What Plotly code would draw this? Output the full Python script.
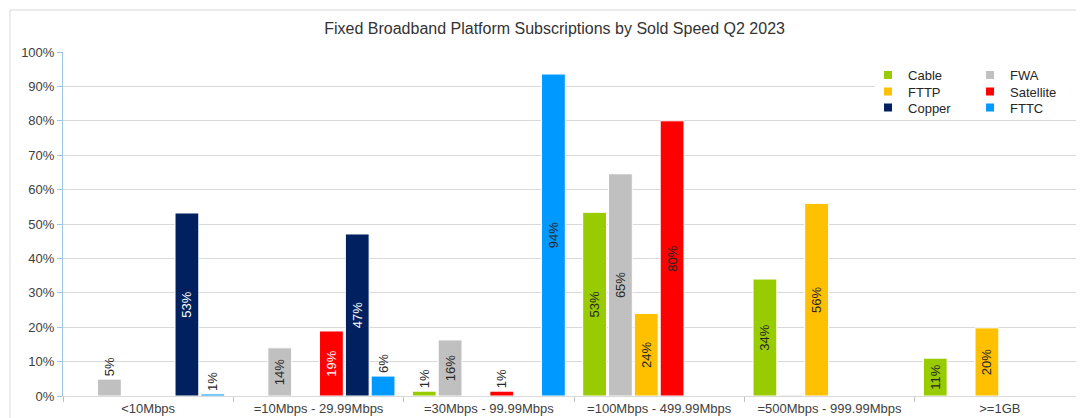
import plotly.graph_objects as go

categories = ["<10Mbps", "=10Mbps - 29.99Mbps", "=30Mbps - 99.99Mbps",
              "=100Mbps - 499.99Mbps", "=500Mbps - 999.99Mbps", ">=1GB"]

cable = [0, 0, 1.4, 53.4, 34.0, 11.0]
fwa = [4.9, 14.0, 16.3, 64.6, 0.3, 0]
fttp = [0, 0, 0, 24.0, 56.0, 19.8]
satellite = [0, 18.9, 1.4, 80.0, 0, 0]
copper = [53.2, 47.1, 0, 0, 0, 0]
fttc = [0.6, 5.8, 93.6, 0, 0, 0]

series_names = ["Cable", "FWA", "FTTP", "Satellite", "Copper", "FTTC"]
series_values = [cable, fwa, fttp, satellite, copper, fttc]
colors = ["#99CC00", "#C0C0C0", "#FFC000", "#FF0000", "#002060", "#0099FF"]
DARK = "#262626"
inside_colors = {
    "Cable": [DARK] * 6,
    "FWA": [DARK] * 6,
    "FTTP": [DARK] * 6,
    "Satellite": [DARK, "white", DARK, DARK, DARK, DARK],
    "Copper": ["white"] * 6,
    "FTTC": [DARK] * 6,
}
legend_rows = {"Cable": "legend", "FWA": "legend",
               "FTTP": "legend2", "Satellite": "legend2",
               "Copper": "legend3", "FTTC": "legend3"}

FONT = "Liberation Sans, Arial, sans-serif"

fig = go.Figure()
for name, vals, col in zip(series_names, series_values, colors):
    texts = [f"{round(v)}%" if v >= 0.5 else "" for v in vals]
    positions = ["outside" if v < 8 else "inside" for v in vals]
    fig.add_trace(go.Bar(
        x=categories, y=vals, name=name,
        marker=dict(color=col, line=dict(color="white", width=1)),
        text=texts, textposition=positions, textangle=-90,
        insidetextanchor="middle",
        insidetextfont=dict(color=inside_colors[name], size=13, family=FONT),
        outsidetextfont=dict(color=DARK, size=13, family=FONT),
        cliponaxis=False, showlegend=False, hoverinfo="skip",
    ))

for name, col in zip(series_names, colors):
    fig.add_trace(go.Scatter(
        x=[None], y=[None], mode="markers", name=name,
        marker=dict(symbol="square", size=8, color=col),
        legend=legend_rows[name], showlegend=True,
    ))

legend_common = dict(orientation="h", xanchor="left", x=0.7877, yanchor="middle",
                     entrywidth=57, entrywidthmode="pixels",
                     font=dict(size=13, family=FONT, color=DARK),
                     borderwidth=0, bgcolor="rgba(0,0,0,0)")

fig.update_layout(
    width=1084, height=418,
    margin=dict(l=55, r=7, t=44, b=30, autoexpand=False),
    paper_bgcolor="white", plot_bgcolor="white",
    font=dict(family=FONT, size=13, color="#404040"),
    barmode="group", bargap=0.09, bargroupgap=0.08,
    title=dict(text="Fixed Broadband Platform Subscriptions by Sold Speed Q2 2023",
               x=0.481, xanchor="center", xref="paper",
               y=1 - 20 / 418, yanchor="middle", yref="container",
               font=dict(size=16, family=FONT, color="#333333")),
    xaxis=dict(type="category", showline=True, linecolor="#D9D9D9", linewidth=1,
               ticks="outside", tickson="boundaries", ticklen=5, tickcolor="#BFBFBF",
               tickfont=dict(size=13, color="#404040"), automargin=False),
    yaxis=dict(range=[0, 100], dtick=10, ticksuffix="%", showgrid=True,
               gridcolor="#D9D9D9", gridwidth=1, zeroline=False,
               showline=True, linecolor="#9DC3E6", linewidth=1,
               ticks="outside", ticklen=5, tickcolor="#9DC3E6",
               tickfont=dict(size=13, color="#404040"), automargin=False),
    legend=dict(y=0.9331, **legend_common),
    legend2=dict(y=0.8852, **legend_common),
    legend3=dict(y=0.8387, **legend_common),
    shapes=[
        dict(type="rect", xref="paper", yref="paper",
             x0=0.7945, x1=0.993, y0=0.808, y1=0.971,
             line=dict(width=0), fillcolor="white", layer="above"),
        dict(type="rect", xref="paper", yref="paper",
             x0=-0.0519, x1=1.1, y0=-0.2, y1=1.1221,
             line=dict(color="#D9D9D9", width=1), fillcolor="rgba(0,0,0,0)",
             layer="above"),
    ],
)

fig.write_html("out.html")
